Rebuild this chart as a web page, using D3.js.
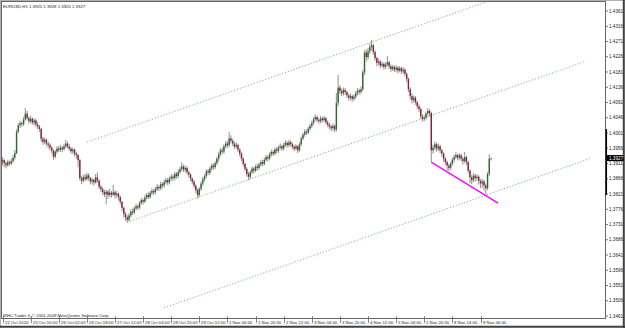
<!DOCTYPE html>
<html>
<head>
<meta charset="utf-8">
<script src="https://cdn.jsdelivr.net/npm/d3@7"></script>
<style>
body { margin: 0; background: #fff; }
svg text { font-family: "Liberation Sans", Arial, sans-serif; }
</style>
</head>
<body>
<div id="chart"></div>
<script>

// header + footer texts
const symbol_title = "EURUSD,H1  1.3925 1.3928 1.3920 1.3927";
const copyright_text = "WHC Trader 4, \u00a9 2001-2009 MetaQuotes Software Corp.";

// hourly bars, open of each bar = close of the previous one
const first_open = 1.3915;
const closes = [
    1.3921,1.3912,1.3906,1.3915,1.3911,1.3918,1.3928,1.3942,1.4005,1.4024,
    1.4030,1.4027,1.4041,1.4058,1.4045,1.4036,1.4043,1.4032,1.4038,1.4026,
    1.4020,1.4013,1.3984,1.3975,1.3981,1.3970,1.3966,1.3958,1.3949,1.3931,
    1.3946,1.3955,1.3951,1.3958,1.3953,1.3962,1.3970,1.3961,1.3955,1.3947,
    1.3952,1.3940,1.3936,1.3921,1.3868,1.3860,1.3871,1.3865,1.3876,1.3868,
    1.3858,1.3863,1.3855,1.3870,1.3861,1.3842,1.3835,1.3827,1.3820,1.3828,
    1.3818,1.3825,1.3819,1.3826,1.3818,1.3822,1.3812,1.3798,1.3780,1.3762,
    1.3752,1.3745,1.3758,1.3769,1.3766,1.3778,1.3785,1.3781,1.3794,1.3803,
    1.3798,1.3810,1.3818,1.3812,1.3824,1.3830,1.3826,1.3835,1.3842,1.3838,
    1.3850,1.3846,1.3856,1.3862,1.3855,1.3866,1.3872,1.3868,1.3880,1.3874,
    1.3886,1.3895,1.3902,1.3893,1.3898,1.3885,1.3878,1.3866,1.3858,1.3845,
    1.3832,1.3818,1.3836,1.3852,1.3865,1.3874,1.3888,1.3884,1.3896,1.3905,
    1.3900,1.3912,1.3925,1.3938,1.3950,1.3946,1.3962,1.3970,1.3965,1.3985,
    1.3978,1.3970,1.3961,1.3966,1.3952,1.3940,1.3925,1.3910,1.3895,1.3880,
    1.3872,1.3885,1.3896,1.3890,1.3902,1.3898,1.3908,1.3915,1.3910,1.3922,
    1.3930,1.3926,1.3938,1.3945,1.3940,1.3952,1.3948,1.3958,1.3962,1.3955,
    1.3966,1.3972,1.3965,1.3974,1.3968,1.3960,1.3955,1.3962,1.3950,1.3968,
    1.3985,1.3996,1.4005,1.4002,1.4014,1.4022,1.4030,1.4042,1.4048,1.4040,
    1.4036,1.4044,1.4039,1.4045,1.4033,1.4026,1.4020,1.4015,1.4022,1.4012,
    1.4090,1.4135,1.4125,1.4118,1.4128,1.4122,1.4112,1.4105,1.4110,1.4102,
    1.4108,1.4118,1.4126,1.4122,1.4130,1.4180,1.4238,1.4225,1.4242,1.4255,
    1.4260,1.4240,1.4222,1.4208,1.4212,1.4200,1.4205,1.4196,1.4203,1.4210,
    1.4198,1.4190,1.4196,1.4188,1.4194,1.4185,1.4192,1.4183,1.4188,1.4175,
    1.4160,1.4130,1.4110,1.4098,1.4105,1.4092,1.4080,1.4072,1.4050,1.4042,
    1.4046,1.4058,1.4066,1.4060,1.3950,1.3958,1.3968,1.3955,1.3962,1.3950,
    1.3940,1.3925,1.3915,1.3905,1.3898,1.3910,1.3922,1.3930,1.3936,1.3928,
    1.3935,1.3925,1.3918,1.3930,1.3915,1.3890,1.3870,1.3862,1.3875,1.3868,
    1.3872,1.3860,1.3852,1.3858,1.3846,1.3838,1.3880,1.3925,1.3927
];
const highs = [
    1.3930,1.3925,1.3918,1.3922,1.3920,1.3926,1.3936,1.3951,1.4012,1.4030,
    1.4038,1.4036,1.4048,1.4075,1.4066,1.4050,1.4052,1.4047,1.4045,1.4042,
    1.4034,1.4025,1.4016,1.3990,1.3988,1.3985,1.3976,1.3971,1.3962,1.3952,
    1.3950,1.3962,1.3963,1.3966,1.3962,1.3970,1.3981,1.3976,1.3968,1.3960,
    1.3958,1.3955,1.3946,1.3940,1.3925,1.3875,1.3878,1.3880,1.3884,1.3882,
    1.3872,1.3870,1.3866,1.3880,1.3885,1.3864,1.3848,1.3840,1.3834,1.3833,
    1.3832,1.3836,1.3830,1.3848,1.3832,1.3830,1.3825,1.3816,1.3800,1.3784,
    1.3768,1.3758,1.3764,1.3775,1.3778,1.3784,1.3792,1.3790,1.3800,1.3810,
    1.3808,1.3817,1.3824,1.3826,1.3830,1.3838,1.3836,1.3842,1.3850,1.3848,
    1.3858,1.3856,1.3864,1.3870,1.3868,1.3873,1.3880,1.3878,1.3887,1.3886,
    1.3893,1.3902,1.3915,1.3908,1.3905,1.3902,1.3890,1.3882,1.3870,1.3862,
    1.3850,1.3838,1.3842,1.3858,1.3871,1.3880,1.3894,1.3895,1.3902,1.3911,
    1.3912,1.3918,1.3931,1.3944,1.3957,1.3958,1.3968,1.3977,1.3978,1.4005,
    1.3994,1.3984,1.3975,1.3973,1.3970,1.3956,1.3944,1.3930,1.3914,1.3900,
    1.3886,1.3891,1.3902,1.3901,1.3908,1.3910,1.3914,1.3922,1.3921,1.3928,
    1.3937,1.3936,1.3944,1.3952,1.3951,1.3958,1.3959,1.3964,1.3970,1.3967,
    1.3972,1.3980,1.3977,1.3981,1.3979,1.3972,1.3966,1.3968,1.3965,1.3974,
    1.3991,1.4002,1.4012,1.4011,1.4020,1.4028,1.4037,1.4048,1.4056,1.4053,
    1.4046,1.4051,1.4049,1.4052,1.4048,1.4038,1.4031,1.4025,1.4029,1.4026,
    1.4120,1.4172,1.4142,1.4132,1.4135,1.4134,1.4126,1.4117,1.4118,1.4114,
    1.4115,1.4124,1.4133,1.4132,1.4138,1.4188,1.4246,1.4248,1.4252,1.4266,
    1.4276,1.4264,1.4245,1.4226,1.4220,1.4216,1.4212,1.4209,1.4210,1.4228,
    1.4214,1.4203,1.4202,1.4200,1.4201,1.4198,1.4199,1.4196,1.4195,1.4192,
    1.4180,1.4165,1.4136,1.4118,1.4112,1.4110,1.4096,1.4086,1.4076,1.4056,
    1.4053,1.4064,1.4074,1.4072,1.4064,1.3966,1.3976,1.3972,1.3970,1.3966,
    1.3954,1.3944,1.3930,1.3920,1.3910,1.3916,1.3928,1.3937,1.3944,1.3940,
    1.3942,1.3939,1.3930,1.3945,1.3934,1.3919,1.3894,1.3876,1.3882,1.3880,
    1.3879,1.3876,1.3865,1.3866,1.3862,1.3852,1.3886,1.3938,1.3928
];
const lows = [
    1.3905,1.3900,1.3896,1.3901,1.3904,1.3906,1.3912,1.3922,1.3938,1.4000,
    1.4016,1.4019,1.4022,1.4037,1.4040,1.4028,1.4030,1.4025,1.4024,1.4018,
    1.4012,1.4004,1.3975,1.3966,1.3968,1.3962,1.3955,1.3950,1.3941,1.3922,
    1.3926,1.3940,1.3945,1.3946,1.3944,1.3950,1.3957,1.3955,1.3948,1.3940,
    1.3938,1.3932,1.3925,1.3900,1.3860,1.3850,1.3855,1.3858,1.3860,1.3861,
    1.3850,1.3849,1.3846,1.3852,1.3855,1.3835,1.3826,1.3818,1.3812,1.3790,
    1.3806,1.3812,1.3810,1.3815,1.3808,1.3810,1.3802,1.3790,1.3770,1.3752,
    1.3741,1.3736,1.3740,1.3752,1.3758,1.3762,1.3772,1.3774,1.3776,1.3790,
    1.3789,1.3795,1.3805,1.3806,1.3808,1.3818,1.3817,1.3820,1.3829,1.3830,
    1.3832,1.3838,1.3840,1.3850,1.3847,1.3850,1.3860,1.3859,1.3862,1.3866,
    1.3868,1.3880,1.3889,1.3886,1.3885,1.3878,1.3870,1.3858,1.3850,1.3838,
    1.3825,1.3808,1.3812,1.3830,1.3845,1.3858,1.3868,1.3876,1.3878,1.3890,
    1.3892,1.3895,1.3906,1.3918,1.3932,1.3938,1.3940,1.3955,1.3957,1.3960,
    1.3970,1.3962,1.3954,1.3955,1.3945,1.3932,1.3918,1.3902,1.3888,1.3872,
    1.3862,1.3866,1.3880,1.3882,1.3885,1.3890,1.3892,1.3902,1.3903,1.3905,
    1.3916,1.3918,1.3920,1.3932,1.3933,1.3935,1.3941,1.3942,1.3952,1.3948,
    1.3950,1.3960,1.3958,1.3960,1.3961,1.3953,1.3947,1.3950,1.3942,1.3946,
    1.3962,1.3980,1.3990,1.3995,1.3998,1.4008,1.4016,1.4025,1.4036,1.4033,
    1.4028,1.4030,1.4032,1.4034,1.4026,1.4018,1.4012,1.4006,1.4008,1.4004,
    1.4005,1.4080,1.4116,1.4110,1.4112,1.4114,1.4104,1.4096,1.4098,1.4094,
    1.4096,1.4102,1.4112,1.4114,1.4116,1.4125,1.4172,1.4212,1.4218,1.4235,
    1.4246,1.4232,1.4214,1.4198,1.4200,1.4192,1.4194,1.4188,1.4190,1.4198,
    1.4190,1.4182,1.4184,1.4180,1.4182,1.4177,1.4180,1.4175,1.4176,1.4168,
    1.4150,1.4122,1.4100,1.4088,1.4090,1.4084,1.4072,1.4062,1.4042,1.4034,
    1.4036,1.4040,1.4052,1.4050,1.3916,1.3940,1.3950,1.3946,1.3948,1.3941,
    1.3930,1.3916,1.3906,1.3890,1.3889,1.3892,1.3904,1.3915,1.3924,1.3920,
    1.3922,1.3917,1.3908,1.3912,1.3906,1.3882,1.3852,1.3850,1.3856,1.3858,
    1.3860,1.3848,1.3838,1.3840,1.3832,1.3820,1.3832,1.3874,1.3920
];

// time axis: one label every 16 bars
const time_labels = ["22 Oct 2010", "25 Oct 10:00", "26 Oct 02:00", "26 Oct 18:00", "27 Oct 12:00",
    "28 Oct 04:00", "28 Oct 20:00", "29 Oct 12:00", "1 Nov 04:00", "1 Nov 20:00", "2 Nov 12:00",
    "3 Nov 04:00", "3 Nov 20:00", "4 Nov 12:00", "5 Nov 04:00", "5 Nov 20:00", "8 Nov 14:00", "9 Nov 06:00"];
const bars_per_label = 16;

// price axis
const price_ticks = [1.4361, 1.4316, 1.4271, 1.4226, 1.4181, 1.4136, 1.4091, 1.4046, 1.4001, 1.3956,
    1.3911, 1.3866, 1.3821, 1.3776, 1.3731, 1.3686, 1.3641, 1.3596, 1.3551, 1.3506, 1.3461];
const last_price = 1.3927;

// equidistant channel (3 dotted lines): start bar/price, end bar/price
const chan_start_bar = [48, 71, 92];
const chan_start_price = [1.3974, 1.3738, 1.3485];
const chan_end_bar = [332, 332, 334];
const chan_end_price = [1.4491, 1.4213, 1.3925];

// magenta trend line
const trend_bars = [244, 282];
const trend_prices = [1.3915, 1.3794];


let width = 625, height = 328;
let plot_left = 1.5, plot_right = 605.5, plot_top = 1.5, plot_bottom = 318.5;

let svg = d3.select("#chart")
            .append("svg")
            .attr("width", width)
            .attr("height", height);

svg.append("rect")
    .attr("width", width)
    .attr("height", height)
    .attr("fill", "#ffffff");

let xScale = d3.scaleLinear()
                .domain([0, 272])
                .range([2.5, 480.5]);

let yScale = d3.scaleLinear()
                .domain([1.3461, 1.4361])
                .range([316, 11]);

svg.append("clipPath")
    .attr("id", "plot_clip")
    .append("rect")
    .attr("x", plot_left)
    .attr("y", plot_top)
    .attr("width", plot_right - plot_left)
    .attr("height", plot_bottom - plot_top);

let plot = svg.append("g").attr("clip-path", "url(#plot_clip)");

// channel lines
plot.selectAll(".chan_line")
    .data(chan_start_bar)
    .enter()
    .append("line")
    .attr("class", "chan_line")
    .attr("x1", (d, i) => xScale(chan_start_bar[i]))
    .attr("y1", (d, i) => yScale(chan_start_price[i]))
    .attr("x2", (d, i) => xScale(chan_end_bar[i]))
    .attr("y2", (d, i) => yScale(chan_end_price[i]))
    .attr("stroke", "#62bb62")
    .attr("stroke-width", 0.9)
    .attr("stroke-dasharray", "1.2,1.8");

// candles
let bars = closes.map(function(c, i) {
    let o = i == 0 ? first_open : closes[i - 1];
    return {i: i, o: o, c: c,
            h: Math.max(highs[i], o, c),
            l: Math.min(lows[i], o, c)};
});

let candles = plot.selectAll(".candle")
    .data(bars)
    .enter()
    .append("g")
    .attr("class", "candle");

candles.append("line")
    .attr("x1", d => xScale(d.i))
    .attr("x2", d => xScale(d.i))
    .attr("y1", d => yScale(d.h))
    .attr("y2", d => yScale(d.l))
    .attr("stroke", "#9a9a9a")
    .attr("stroke-width", 1.1);

candles.append("rect")
    .attr("x", d => xScale(d.i) - 0.7)
    .attr("y", d => yScale(Math.max(d.o, d.c)))
    .attr("width", 1.4)
    .attr("height", d => Math.max(0.7, Math.abs(yScale(d.o) - yScale(d.c))))
    .attr("fill", d => d.c >= d.o ? "#2f6a2f" : "#8a1f42");

// magenta line
plot.append("line")
    .attr("x1", xScale(trend_bars[0]))
    .attr("y1", yScale(trend_prices[0]))
    .attr("x2", xScale(trend_bars[1]))
    .attr("y2", yScale(trend_prices[1]))
    .attr("stroke", "#ff00ff")
    .attr("stroke-width", 1.3);

// frame
svg.append("rect")
    .attr("x", plot_left)
    .attr("y", plot_top)
    .attr("width", plot_right - plot_left)
    .attr("height", plot_bottom - plot_top)
    .attr("fill", "none")
    .attr("stroke", "#666")
    .attr("stroke-width", 1);

// outer window edge
svg.append("line").attr("x1", 0).attr("x2", width).attr("y1", 0.5).attr("y2", 0.5)
    .attr("stroke", "#b0b0b0");
svg.append("line").attr("x1", 0.5).attr("x2", 0.5).attr("y1", 0).attr("y2", height)
    .attr("stroke", "#b0b0b0");
svg.append("line").attr("x1", 0).attr("x2", width).attr("y1", 326.8).attr("y2", 326.8)
    .attr("stroke", "#404040").attr("stroke-width", 2);
svg.append("line").attr("x1", 623.8).attr("x2", 623.8).attr("y1", 0).attr("y2", height)
    .attr("stroke", "#404040").attr("stroke-width", 2);

// price axis
let y_axis = svg.append("g").attr("class", "y axis");

y_axis.selectAll(".y_tick")
    .data(price_ticks)
    .enter()
    .append("line")
    .attr("x1", plot_right)
    .attr("x2", plot_right + 2.5)
    .attr("y1", d => yScale(d))
    .attr("y2", d => yScale(d))
    .attr("stroke", "#555")
    .attr("stroke-width", 0.8);

y_axis.selectAll(".y_label")
    .data(price_ticks)
    .enter()
    .append("text")
    .attr("x", plot_right + 3.5)
    .attr("y", d => yScale(d))
    .attr("dy", "0.35em")
    .attr("font-size", "4.6px")
    .attr("fill", "#222")
    .text(d => d.toFixed(4));

// dark segment on the price axis
svg.append("line")
    .attr("x1", plot_right + 0.8)
    .attr("x2", plot_right + 0.8)
    .attr("y1", 129)
    .attr("y2", 195)
    .attr("stroke", "#000")
    .attr("stroke-width", 1.5);

// current price box
svg.append("rect")
    .attr("x", plot_right + 1)
    .attr("y", yScale(last_price) - 3)
    .attr("width", 17)
    .attr("height", 6)
    .attr("fill", "#000");

svg.append("text")
    .attr("x", plot_right + 3.5)
    .attr("y", yScale(last_price))
    .attr("dy", "0.35em")
    .attr("font-size", "4.6px")
    .attr("fill", "#fff")
    .text(last_price.toFixed(4));

// time axis
let x_axis = svg.append("g").attr("class", "x axis");

x_axis.selectAll(".x_tick")
    .data(time_labels)
    .enter()
    .append("line")
    .attr("x1", (d, i) => Math.round(xScale(i * bars_per_label)) + 0.5)
    .attr("x2", (d, i) => Math.round(xScale(i * bars_per_label)) + 0.5)
    .attr("y1", 316)
    .attr("y2", 323)
    .attr("stroke", "#555")
    .attr("stroke-width", 0.7);

x_axis.selectAll(".x_label")
    .data(time_labels)
    .enter()
    .append("text")
    .attr("x", (d, i) => Math.round(xScale(i * bars_per_label)) + 2)
    .attr("y", 324)
    .attr("font-size", "4.3px")
    .attr("fill", "#222")
    .text(d => d);

// header and copyright
svg.append("text")
    .attr("x", 3)
    .attr("y", 7.5)
    .attr("font-size", "4.3px")
    .attr("fill", "#222")
    .text(symbol_title);

svg.append("text")
    .attr("x", 3)
    .attr("y", 317)
    .attr("font-size", "4.2px")
    .attr("fill", "#222")
    .text(copyright_text);

</script>
</body>
</html>
